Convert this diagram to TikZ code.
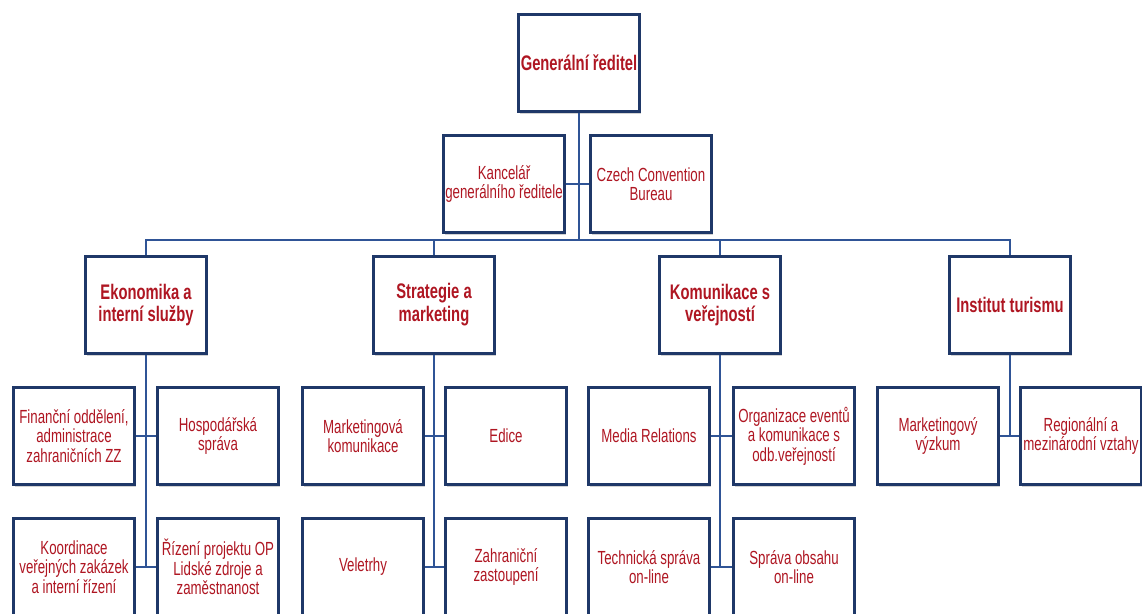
\documentclass[tikz,border=0pt]{standalone}
\usepackage{fontspec}
\newfontfamily\orgfont[FakeStretch=0.7]{Liberation Sans}
\usetikzlibrary{shadows}
\definecolor{boxblue}{RGB}{31,56,104}
\definecolor{lineblue}{RGB}{47,84,150}
\definecolor{textred}{RGB}{175,22,34}

\begin{document}
\begin{tikzpicture}[x=0.02cm,y=-0.02cm,
orgbox/.style={
  rectangle, draw=boxblue, line width=2.2pt, fill=white,
  minimum width=2.42cm, minimum height=1.94cm, inner xsep=0.5pt,
  align=center, text=textred,
  font=\orgfont\fontsize{10.8}{11}\selectfont,
  drop shadow={opacity=0.35, shadow xshift=0.8pt, shadow yshift=-1.2pt}
},
headbox/.style={orgbox, font=\orgfont\bfseries\fontsize{12}{13}\selectfont},
link/.style={draw=lineblue, line width=1pt}
]
\useasboundingbox (0,0) rectangle (1142,614);
\clip (0,0) rectangle (1142,614);

% top
\node (gr) [headbox] at (579,63) {Generální ředitel};
\node (kanc) [orgbox] at (504,184) {Kancelář\\generálního ředitele};
\node (ccb) [orgbox] at (651,184) {Czech Convention\\Bureau};
\coordinate (bus) at (579,240);

% second level
\node (eko) [headbox] at (146,305) {Ekonomika a\\interní služby};
\node (str) [headbox] at (434,305) {Strategie a\\marketing};
\node (kom) [headbox] at (720,305) {Komunikace s\\veřejností};
\node (ins) [headbox] at (1010,305) {Institut turismu};

% departments
\node (fin) [orgbox] at (74,436) {Finanční oddělení,\\administrace\\zahraničních ZZ};
\node (hos) [orgbox] at (218,436) {Hospodářská\\správa};
\node (koo) [orgbox] at (74,567) {Koordinace\\veřejných zakázek\\a interní řízení};
\node (riz) [orgbox] at (218,567) {Řízení projektu OP\\Lidské zdroje a\\zaměstnanost};

\node (mkk) [orgbox] at (363,436) {Marketingová\\komunikace};
\node (edi) [orgbox] at (506,436) {Edice};
\node (vel) [orgbox] at (363,567) {Veletrhy};
\node (zah) [orgbox] at (506,567) {Zahraniční\\zastoupení};

\node (med) [orgbox] at (649,436) {Media Relations};
\node (org) [orgbox] at (794,436) {Organizace eventů\\a komunikace s\\odb.veřejností};
\node (tec) [orgbox] at (649,567) {Technická správa\\on-line};
\node (spr) [orgbox] at (794,567) {Správa obsahu\\on-line};

\node (mvy) [orgbox] at (938,436) {Marketingový\\výzkum};
\node (reg) [orgbox] at (1081,436) {Regionální a\\mezinárodní vztahy};

% connectors
\draw[link] (gr.south) -- (bus);
\draw[link] (kanc.east) -- (ccb.west);
\draw[link] (eko.north) |- (bus);
\draw[link] (ins.north) |- (bus);
\draw[link] (str.north) -- (str.north |- bus);
\draw[link] (kom.north) -- (kom.north |- bus);

\draw[link] (eko.south) -- (eko.south |- koo.east);
\draw[link] (fin.east) -- (hos.west);
\draw[link] (koo.east) -- (riz.west);

\draw[link] (str.south) -- (str.south |- vel.east);
\draw[link] (mkk.east) -- (edi.west);
\draw[link] (vel.east) -- (zah.west);

\draw[link] (kom.south) -- (kom.south |- tec.east);
\draw[link] (med.east) -- (org.west);
\draw[link] (tec.east) -- (spr.west);

\draw[link] (ins.south) -- (ins.south |- mvy.east);
\draw[link] (mvy.east) -- (reg.west);
\end{tikzpicture}
\end{document}
